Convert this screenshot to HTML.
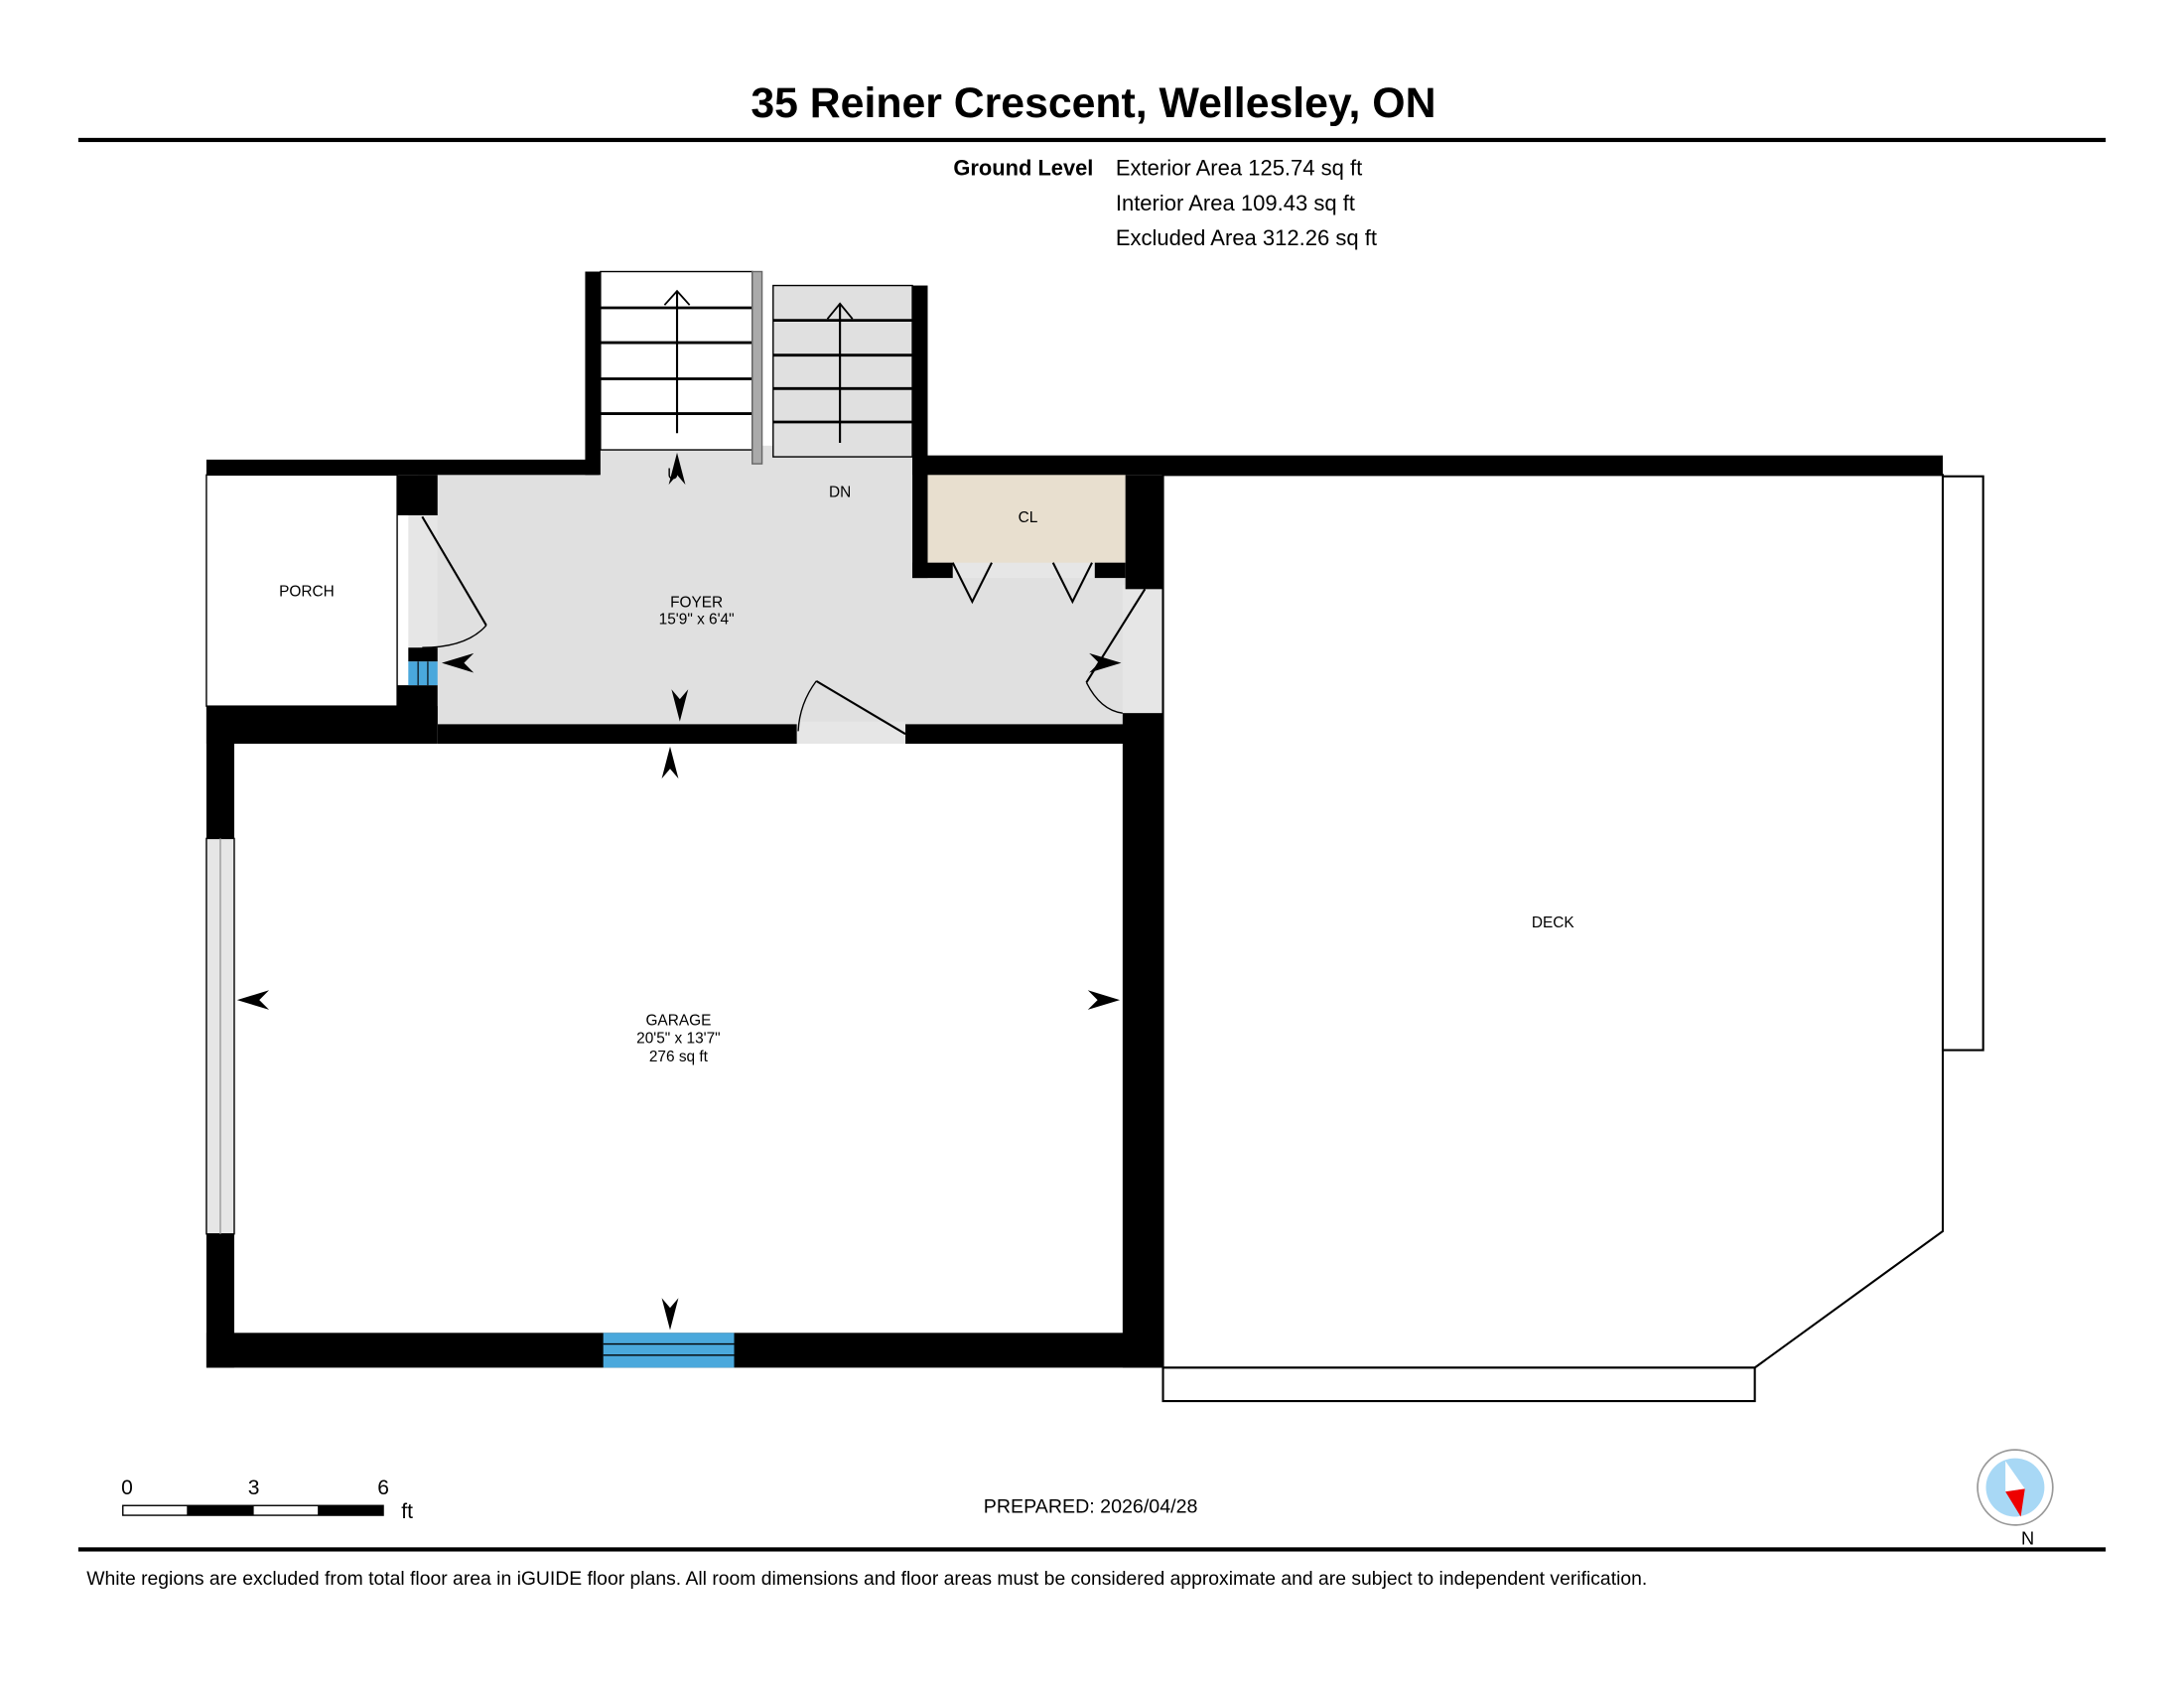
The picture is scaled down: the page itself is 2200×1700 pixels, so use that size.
<!DOCTYPE html>
<html><head><meta charset="utf-8"><style>html,body{margin:0;padding:0;background:#fff}svg{display:block}text{font-family:"Liberation Sans",sans-serif}</style></head>
<body>
<svg width="2200" height="1700" viewBox="0 0 1568 1212" xmlns="http://www.w3.org/2000/svg">
<rect width="1568" height="1212" fill="#fff"/>
<text x="785" y="84" font-size="30.5" font-weight="bold" text-anchor="middle">35 Reiner Crescent, Wellesley, ON</text>
<rect x="56" y="99" width="1456" height="3" fill="#000"/>
<text x="785" y="126" font-size="15.6" font-weight="bold" text-anchor="end">Ground Level</text>
<text x="801" y="126" font-size="15.7">Exterior Area 125.74 sq ft</text>
<text x="801" y="151" font-size="15.7">Interior Area 109.43 sq ft</text>
<text x="801" y="176" font-size="15.7">Excluded Area 312.26 sq ft</text>

<!-- foyer fill -->
<rect x="300" y="339" width="508" height="182" fill="#e0e0e0"/>
<rect x="430" y="320" width="226" height="22" fill="#e0e0e0"/>
<rect x="806" y="420" width="29" height="94" fill="#e6e6e6"/>
<rect x="572" y="518" width="78" height="16" fill="#e6e6e6"/>
<rect x="684" y="403" width="102" height="12" fill="#e6e6e6"/>
<!-- stairs -->
<rect x="431" y="195" width="109" height="128" fill="#fff" stroke="#000" stroke-width="1"/>
<g stroke="#000" stroke-width="2"><line x1="431" y1="221" x2="540" y2="221"/><line x1="431" y1="246" x2="540" y2="246"/><line x1="431" y1="272" x2="540" y2="272"/><line x1="431" y1="297" x2="540" y2="297"/></g>
<line x1="486" y1="311" x2="486" y2="209" stroke="#000" stroke-width="1.5"/><polyline points="477,219 486,209 495,219" fill="none" stroke="#000" stroke-width="1.3"/>
<rect x="555" y="205" width="100" height="123" fill="#e0e0e0" stroke="#000" stroke-width="1"/>
<g stroke="#000" stroke-width="2"><line x1="555" y1="230" x2="655" y2="230"/><line x1="555" y1="255" x2="655" y2="255"/><line x1="555" y1="279" x2="655" y2="279"/><line x1="555" y1="303" x2="655" y2="303"/></g>
<line x1="603" y1="318" x2="603" y2="218" stroke="#000" stroke-width="1.5"/><polyline points="594,229 603,218 612,229" fill="none" stroke="#000" stroke-width="1.3"/>
<rect x="540" y="195" width="7" height="138" fill="#aaa" stroke="#666" stroke-width="1"/>
<!-- CL -->
<rect x="666" y="339" width="142" height="65" fill="#e8dfcf"/>
<!-- porch -->
<rect x="148" y="341" width="137" height="166" fill="#fff" stroke="#000" stroke-width="1"/>
<rect x="293" y="370" width="21" height="95" fill="#e6e6e6"/>
<!-- walls -->
<g fill="#000">
<rect x="148" y="330" width="282" height="11"/>
<rect x="420" y="195" width="11" height="146"/>
<rect x="655" y="205" width="11" height="210"/>
<rect x="655" y="327" width="740" height="14"/>
<rect x="285" y="341" width="29" height="29"/>
<rect x="293" y="465" width="21" height="10"/>
<rect x="285" y="492" width="29" height="28"/>
<rect x="655" y="404" width="29" height="11"/>
<rect x="786" y="404" width="22" height="11"/>
<rect x="808" y="341" width="27" height="82"/>
<rect x="806" y="512" width="29" height="470"/>
<rect x="148" y="507" width="166" height="27"/>
<rect x="314" y="520" width="258" height="14"/>
<rect x="650" y="520" width="160" height="14"/>
<rect x="148" y="507" width="20" height="95"/>
<rect x="148" y="886" width="20" height="96"/>
<rect x="148" y="957" width="687" height="25"/>
<rect x="1273" y="355" width="21" height="13"/>
</g>
<rect x="293" y="475" width="21" height="17" fill="#4aa8dc"/>
<line x1="300" y1="475" x2="300" y2="492" stroke="#000" stroke-width="0.8"/><line x1="307" y1="475" x2="307" y2="492" stroke="#000" stroke-width="0.8"/>
<rect x="148" y="602" width="20" height="284" fill="#e6e6e6" stroke="#000" stroke-width="1"/>
<line x1="158" y1="602" x2="158" y2="886" stroke="#999" stroke-width="1"/>
<rect x="433" y="957" width="94" height="25" fill="#4aa8dc"/>
<line x1="433" y1="965" x2="527" y2="965" stroke="#000" stroke-width="1"/><line x1="433" y1="973" x2="527" y2="973" stroke="#000" stroke-width="1"/>
<!-- deck -->
<polygon points="835,341 1395,341 1395,884 1260,982 835,982" fill="#fff" stroke="#000" stroke-width="1.5"/>
<rect x="835" y="982" width="425" height="24" fill="#fff" stroke="#000" stroke-width="1.5"/>
<rect x="1395" y="342" width="29" height="412" fill="#fff" stroke="#000" stroke-width="1.5"/>
<!-- doors -->
<g fill="none" stroke="#000" stroke-width="1.5">
<line x1="303" y1="371" x2="349" y2="449"/><path d="M349,449 Q335,465 303,465" stroke-width="1"/>
<polyline points="684,404 698,432 712,404"/><polyline points="756,404 770,432 784,404"/>
<line x1="822" y1="423" x2="780" y2="490"/><path d="M780,490 Q790,510 806,512" stroke-width="1"/>
<line x1="586" y1="489" x2="650" y2="527"/><path d="M586,489 Q574,505 573,525" stroke-width="1"/>
</g>
<!-- arrows -->
<g fill="#000">
<polygon points="486,325 480,348 486,341 492,348"/>
<polygon points="488,518 482,495 488,502 494,495"/>
<polygon points="481,536 475,559 481,552 487,559"/>
<polygon points="317,476 340,469 333,476 340,483"/>
<polygon points="805,476 782,469 789,476 782,483"/>
<polygon points="170,718 193,711 186,718 193,725"/>
<polygon points="804,718 781,711 788,718 781,725"/>
<polygon points="481,955 475,932 481,939 487,932"/>
</g>
<!-- labels -->
<g font-size="11" text-anchor="middle">
<text x="483" y="344">U</text>
<text x="603" y="357">DN</text>
<text x="738" y="375">CL</text>
<text x="220" y="428">PORCH</text>
<text x="500" y="436">FOYER</text><text x="500" y="448">15'9" x 6'4"</text>
<text x="487" y="736">GARAGE</text><text x="487" y="749">20'5" x 13'7"</text><text x="487" y="762">276 sq ft</text>
<text x="1115" y="666">DECK</text>
</g>
<!-- scale -->
<rect x="88" y="1081" width="187" height="7" fill="#fff" stroke="#000" stroke-width="1"/>
<rect x="134" y="1081" width="48" height="7" fill="#000"/><rect x="228" y="1081" width="47" height="7" fill="#000"/>
<g font-size="15"><text x="91" y="1073" text-anchor="middle">0</text><text x="182" y="1073" text-anchor="middle">3</text><text x="275" y="1073" text-anchor="middle">6</text><text x="288" y="1090">ft</text></g>
<text x="783" y="1086" font-size="14" text-anchor="middle">PREPARED: 2026/04/28</text>
<!-- compass -->
<circle cx="1447" cy="1068" r="27" fill="#fff" stroke="#999" stroke-width="1.2"/>
<circle cx="1447" cy="1068" r="21" fill="#a8d8f5"/>
<polygon points="1440,1049 1454,1069 1440,1071" fill="#fff"/>
<polygon points="1440,1071 1454,1069 1451,1089" fill="#e00"/>
<text x="1456" y="1109" font-size="13" text-anchor="middle">N</text>
<rect x="56" y="1111" width="1456" height="3" fill="#000"/>
<text x="62" y="1138" font-size="13.8">White regions are excluded from total floor area in iGUIDE floor plans. All room dimensions and floor areas must be considered approximate and are subject to independent verification.</text>
</svg>
</body></html>
